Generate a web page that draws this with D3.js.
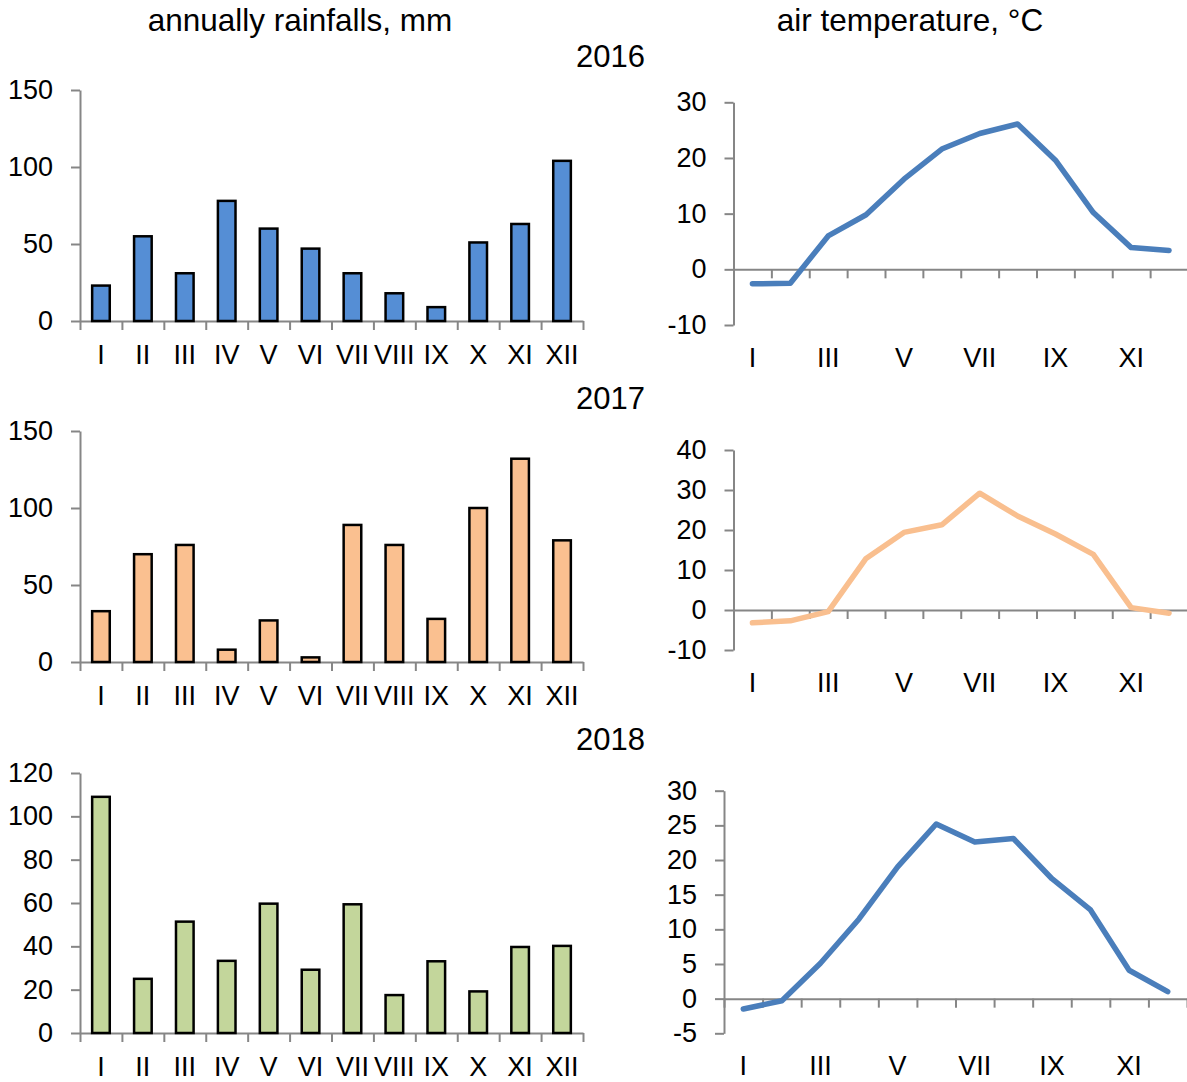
<!DOCTYPE html>
<html>
<head>
<meta charset="utf-8">
<script src="https://cdn.jsdelivr.net/npm/d3@7"></script>
<style>
  body { margin: 0; background: #fff; }
  text { font-family: "Liberation Sans", Arial, sans-serif; fill: #000; }
</style>
</head>
<body>
<div id="d3-container"></div>
<script>
/* DATA */
const months = ["I", "II", "III", "IV", "V", "VI", "VII", "VIII", "IX", "X", "XI", "XII"];
const years = ["2016", "2017", "2018"];

const rain2016 = [23, 55, 31, 78, 60, 47, 31, 18, 9, 51, 63, 104];
const rain2017 = [33, 70, 76, 8, 27, 3, 89, 76, 28, 100, 132, 79];
const rain2018 = [109, 25, 51.4, 33.3, 59.7, 29.2, 59.4, 17.5, 33.1, 19.2, 39.7, 40.2];

const temp2016 = [-2.6, -2.5, 6.0, 9.8, 16.2, 21.6, 24.4, 26.1, 19.6, 10.2, 3.9, 3.4];
const temp2017 = [-3.2, -2.7, -0.4, 12.9, 19.4, 21.3, 29.2, 23.5, 19.0, 13.9, 0.6, -0.8];
const temp2018 = [-1.5, -0.3, 5.1, 11.5, 19.0, 25.2, 22.6, 23.1, 17.3, 12.8, 4.1, 1.0];

const rainTicks = [[0, 50, 100, 150], [0, 50, 100, 150], [0, 20, 40, 60, 80, 100, 120]];
const tempTicks = [[-10, 0, 10, 20, 30], [-10, 0, 10, 20, 30, 40], [-5, 0, 5, 10, 15, 20, 25, 30]];
const tempLabels = ["I", "III", "V", "VII", "IX", "XI"];

/* CONSTANTS */
const width = 1187, height = 1082;
const axisColor = "#868686";
const barColors = ["#558ED5", "#FAC090", "#C3D69B"];
const lineColors = ["#4A7EBB", "#F9BF8F", "#4A7EBB"];

// panel layout: [left, right, top, bottom]
const barBoxes = [[80, 583, 90, 321], [80, 583, 431, 662], [80, 583, 773, 1033]];
const lineBoxes = [[733.5, 1188, 102.3, 325], [733.5, 1188, 450, 650], [724, 1187, 790.7, 1033.3]];
const yearLabelY = [67, 409, 750];

const svg = d3.select("#d3-container")
  .append("svg")
  .attr("width", width)
  .attr("height", height);

svg.append("text").attr("x", 300).attr("y", 31)
  .attr("text-anchor", "middle").style("font-size", "31.5px")
  .text("annually rainfalls, mm");
svg.append("text").attr("x", 910).attr("y", 31)
  .attr("text-anchor", "middle").style("font-size", "31.5px")
  .text("air temperature, °C");

const rains = [rain2016, rain2017, rain2018];
const temps = [temp2016, temp2017, temp2018];

function styleAxis(g) {
  g.select(".domain").attr("stroke", axisColor).attr("stroke-width", 2);
  g.selectAll(".tick line").attr("stroke", axisColor).attr("stroke-width", 2);
  g.selectAll(".tick text").style("font-size", "27px").attr("fill", "#000");
}

years.forEach((yr, i) => {
  // year label
  svg.append("text").attr("x", 645).attr("y", yearLabelY[i])
    .attr("text-anchor", "end").style("font-size", "31px").text(yr);

  /* BAR CHART */
  const [bl, br, bt, bb] = barBoxes[i];
  const yTicks = rainTicks[i];
  const x = d3.scaleBand().domain(months).range([bl, br]);
  const y = d3.scaleLinear().domain([0, d3.max(yTicks)]).range([bb, bt]);
  const xb = d3.scaleLinear().domain([0, 12]).range([bl, br]);

  const gb = svg.append("g");
  gb.append("g")
    .attr("transform", `translate(${bl},0)`)
    .call(d3.axisLeft(y).tickValues(yTicks).tickSize(9).tickPadding(18).tickSizeOuter(0)
      .tickFormat(d => String(d)))
    .call(styleAxis);

  gb.append("g")
    .attr("transform", `translate(0,${bb})`)
    .call(d3.axisBottom(xb).tickValues(d3.range(13)).tickFormat("").tickSize(9).tickSizeOuter(0))
    .call(styleAxis);

  const bw = x.bandwidth() * 0.42;
  gb.selectAll("rect.bar")
    .data(rains[i])
    .join("rect")
    .attr("class", "bar")
    .attr("x", (d, j) => x(months[j]) + (x.bandwidth() - bw) / 2)
    .attr("y", d => y(d))
    .attr("width", bw)
    .attr("height", d => bb - y(d))
    .attr("fill", barColors[i])
    .attr("stroke", "#000")
    .attr("stroke-width", 2.5);

  gb.selectAll("text.mlab")
    .data(months)
    .join("text")
    .attr("class", "mlab")
    .attr("x", d => x(d) + x.bandwidth() / 2)
    .attr("y", bb + 43)
    .attr("text-anchor", "middle")
    .style("font-size", "27px")
    .text(d => d);

  /* LINE CHART */
  const [ll, lr, lt, lb] = lineBoxes[i];
  const tTicks = tempTicks[i];
  const xl = d3.scaleBand().domain(months).range([ll, lr]);
  const xlb = d3.scaleLinear().domain([0, 12]).range([ll, lr]);
  const yl = d3.scaleLinear().domain(d3.extent(tTicks)).range([lb, lt]);

  const gl = svg.append("g");
  gl.append("g")
    .attr("transform", `translate(${ll},0)`)
    .call(d3.axisLeft(yl).tickValues(tTicks).tickSize(9).tickPadding(18).tickSizeOuter(0)
      .tickFormat(d => String(d)))
    .call(styleAxis);

  gl.append("g")
    .attr("transform", `translate(0,${yl(0)})`)
    .call(d3.axisBottom(xlb).tickValues(d3.range(13)).tickFormat("").tickSize(9).tickSizeOuter(0))
    .call(styleAxis);

  const line = d3.line()
    .x((d, j) => xl(months[j]) + xl.bandwidth() / 2)
    .y(d => yl(d));

  gl.append("path")
    .datum(temps[i])
    .attr("d", line)
    .attr("fill", "none")
    .attr("stroke", lineColors[i])
    .attr("stroke-width", 5.5)
    .attr("stroke-linejoin", "round")
    .attr("stroke-linecap", "round");

  gl.selectAll("text.tlab")
    .data(tempLabels)
    .join("text")
    .attr("class", "tlab")
    .attr("x", d => xl(d) + xl.bandwidth() / 2)
    .attr("y", lb + 42)
    .attr("text-anchor", "middle")
    .style("font-size", "27px")
    .text(d => d);
});
</script>
</body>
</html>
